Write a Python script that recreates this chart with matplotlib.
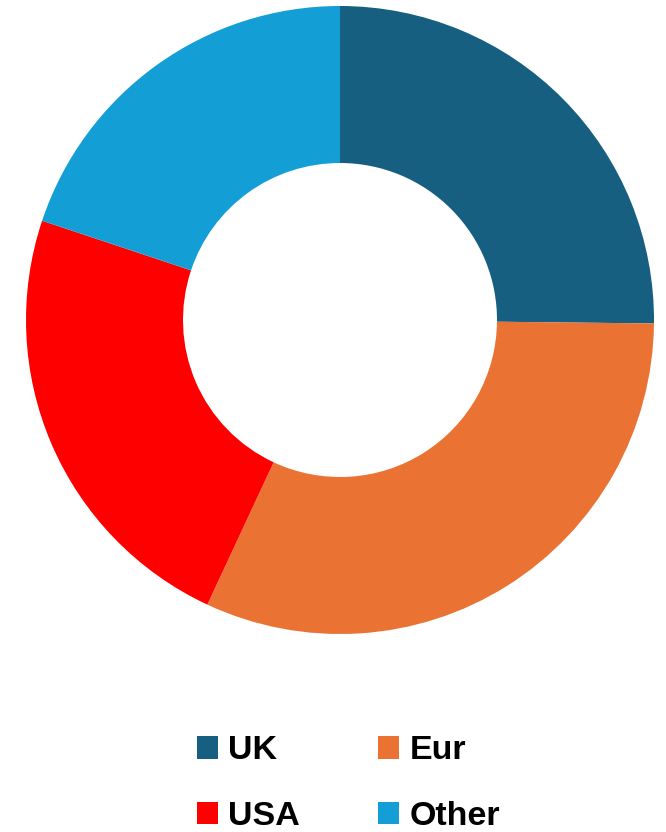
import matplotlib.pyplot as plt
from matplotlib.patches import Patch

# ---- data ----
labels = ["UK", "Eur", "USA", "Other"]
shares = [25.2, 31.8, 23.2, 19.9]
colors = ["#175F80", "#EA7233", "#FF0000", "#139ED5"]

plt.rcParams["font.family"] = ["Liberation Sans", "DejaVu Sans"]

fig = plt.figure(figsize=(6.66, 8.32), dpi=100)
ax = fig.add_axes([26 / 666, 198 / 832, 628 / 666, 628 / 832])

ax.pie(shares, colors=colors, startangle=90, counterclock=False,
       radius=1, wedgeprops=dict(width=0.5, linewidth=0))
ax.set_xlim(-1, 1)
ax.set_ylim(-1, 1)
ax.set_aspect("equal")
ax.axis("off")

# ---- legend (row-wise order: matplotlib fills columns first) ----
order = [0, 2, 1, 3]
handles = [Patch(facecolor=colors[i], edgecolor="none") for i in order]
fig.legend(handles, [labels[i] for i in order], loc="center",
           bbox_to_anchor=(0.523, 48.5 / 832),
           ncol=2, frameon=False, prop=dict(size=24.5, weight="bold"),
           handlelength=0.62, handleheight=0.62, handletextpad=0.3,
           columnspacing=2.3, labelspacing=1.0)

fig.savefig("out.png", dpi=100)
